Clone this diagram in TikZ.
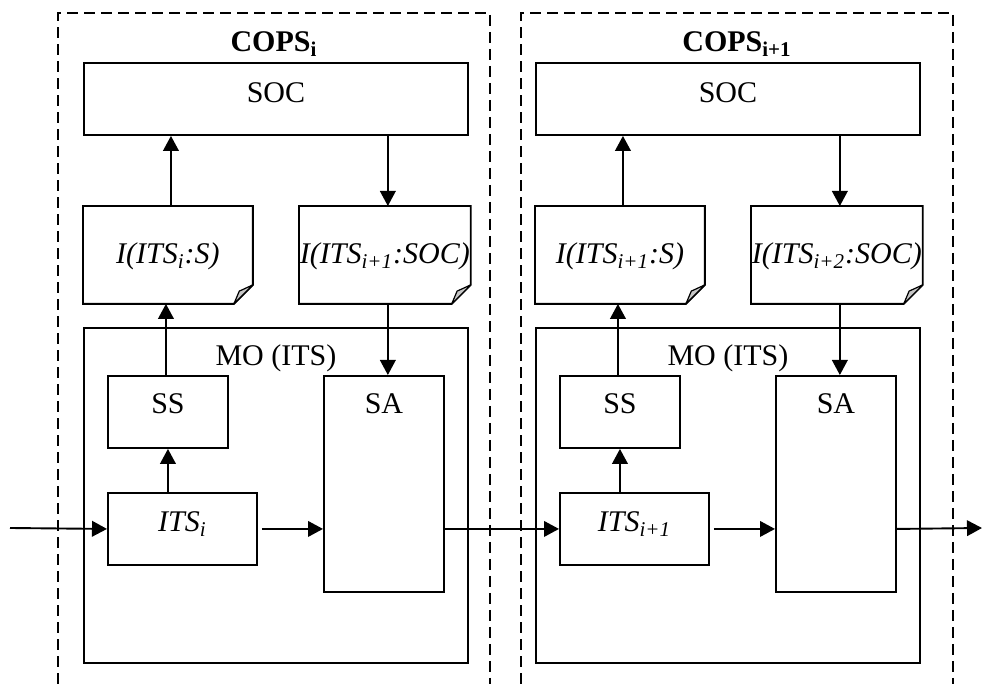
\documentclass[tikz,border=0pt]{standalone}
\usepackage{fontspec}
\setmainfont{Liberation Serif}
\usetikzlibrary{arrows.meta,positioning}

\begin{document}
\begin{tikzpicture}[x=0.5pt,y=-0.5pt,>={Triangle[length=7.5pt,width=7.8pt]},line width=0.95pt,
  font=\fontsize{15}{18}\selectfont]
\tikzstyle{box} = [draw,inner sep=0pt,anchor=north west]
\tikzstyle{doc} = [inner sep=0pt,anchor=north west,minimum width=84pt,text height=28.5pt,text depth=19.5pt,font=\fontsize{15}{18}\selectfont\itshape]
\tikzstyle{cops} = [dash pattern=on 5.5pt off 3pt]
\useasboundingbox (0,0) rectangle (982,684);

% dashed frames
\foreach \dx/\s [count=\p] in {0/i,463/i+1}{
  \draw[cops] (58+\dx,684) -- (58+\dx,13) -- (490+\dx,13) -- (490+\dx,684);
  \node[font=\fontsize{15}{18}\selectfont\bfseries,anchor=base] (title\p) at (274+\dx,52) {COPS\textsubscript{\s}};
}

% two panels
\foreach \p/\dx/\a/\b in {1/0/i/i+1,2/452/i+1/i+2}{
  \begin{scope}[shift={(\dx,0)}]
    \node[box,minimum width=192pt,text height=20pt,text depth=16pt] (soc\p) at (83,62) {SOC};
    \node[doc] (infs\p) at (83,206) {I(ITS\textsubscript{\a}:S)};
    \node[doc] (infc\p) at (299,206) {I(ITS\textsubscript{\b}:SOC)};
    \node[box,minimum width=192pt,text height=19pt,text depth=148.5pt] (mo\p) at (83,327) {MO (ITS)};
    \node[box,minimum width=60pt,text height=19pt,text depth=17pt] (ss\p) at (107,375) {SS};
    \node[box,minimum width=74.5pt,text height=19.5pt,text depth=16.5pt,font=\fontsize{15}{18}\selectfont\itshape] (its\p) at (107,492) {ITS\textsubscript{\a}};
    \node[box,minimum width=60pt,text height=19pt,text depth=89pt] (sa\p) at (323,375) {SA};
  \end{scope}
  % folded sheets
  \foreach \d in {infs\p,infc\p}{
    \draw (\d.north west) -- (\d.north east) -- ([yshift=9.5pt]\d.south east) -- ([xshift=-9.5pt]\d.south east) -- (\d.south west) -- cycle;
    \filldraw[fill=gray!45,line width=0.6pt,line join=round] ([xshift=-9.5pt]\d.south east) -- ([yshift=9.5pt]\d.south east) -- ([shift={(-6.8pt,6.4pt)}]\d.south east) -- cycle;
  }
  \draw[->] ([xshift=1.5pt]infs\p.north) -- ([xshift=1.5pt]infs\p.north |- soc\p.south);
  \draw[->] ([xshift=1.5pt]infc\p.north |- soc\p.south) -- ([xshift=1.5pt]infc\p.north);
  \draw[->] ([xshift=-1pt]ss\p.north) -- ([xshift=-1pt]ss\p.north |- infs\p.south);
  \draw[->] ([xshift=1.5pt]infc\p.south) -- ([xshift=1.5pt]infc\p.south |- sa\p.north);
  \draw[->] (ss\p.south |- its\p.north) -- (ss\p.south);
  \draw[->] ([xshift=2pt]its\p.east) -- (its\p.east -| sa\p.west);
}

\coordinate (in) at (10,528);
\coordinate (out) at (982,528);
\draw[->] (in) -- (its1.west);
\draw[->] (sa1.east |- its1.east) -- (its2.west);
\draw[->] (sa2.east |- its2.east) -- (out);
\end{tikzpicture}
\end{document}
